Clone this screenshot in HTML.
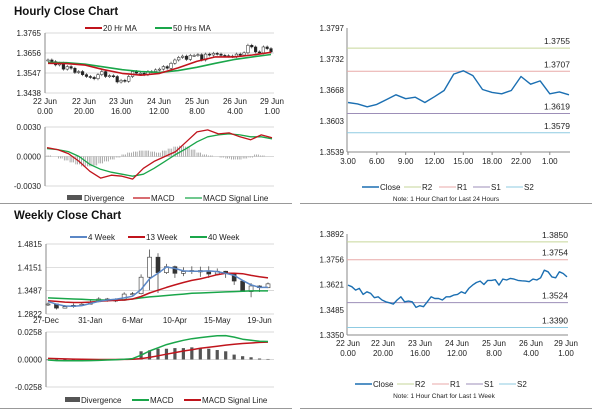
<!DOCTYPE html>
<html><head><meta charset="utf-8"><style>
html,body{margin:0;padding:0;background:#fff}
svg{display:block;font-family:"Liberation Sans",Arial,sans-serif}
</style></head><body>
<svg id="c" width="600" height="413" viewBox="0 0 600 413" xmlns="http://www.w3.org/2000/svg">
<rect width="600" height="413" fill="#fff"/>
<text x="14" y="15" font-size="11.5" font-weight="bold" fill="#111">Hourly Close Chart</text>
<text x="14" y="219" font-size="11.5" font-weight="bold" fill="#111">Weekly Close Chart</text>
<line x1="0" y1="203.5" x2="292" y2="203.5" stroke="#999"/>
<line x1="300" y1="203.5" x2="592" y2="203.5" stroke="#999"/>
<line x1="0" y1="408.5" x2="292" y2="408.5" stroke="#999"/>
<line x1="300" y1="408.5" x2="592" y2="408.5" stroke="#999"/>
<g id="g"></g>
</svg>
<script>
// ---- Hourly (last 24h) ----
const h24Labels=["3.00","6.00","9.00","12.00","15.00","18.00","22.00","1.00"];
const h24Close=[1.3642,1.3639,1.3633,1.3638,1.3648,1.3658,1.3650,1.3653,1.3642,1.3654,1.3667,1.3701,1.3708,1.3698,1.3669,1.3663,1.3660,1.3667,1.3696,1.3680,1.3687,1.3660,1.3664,1.3658];
const h24Levels=[1.3755,1.3707,1.3619,1.3579];
const h24Ticks=[1.3797,1.3732,1.3668,1.3603,1.3539];
// ---- Hourly (last week) ----
const wkLabels1=["22 Jun","22 Jun","23 Jun","24 Jun","25 Jun","26 Jun","29 Jun"];
const wkLabels2=["0.00","20.00","16.00","12.00","8.00","4.00","1.00"];
const wkClose=[1.3618,1.3609,1.3591,1.3600,1.3568,1.3582,1.3573,1.3550,1.3555,1.3538,1.3528,1.3523,1.3516,1.3538,1.3555,1.3528,1.3532,1.3528,1.3498,1.3507,1.3502,1.3528,1.3555,1.3546,1.3546,1.3538,1.3555,1.3555,1.3564,1.3568,1.3582,1.3573,1.3600,1.3618,1.3632,1.3639,1.3621,1.3643,1.3643,1.3647,1.3618,1.3650,1.3645,1.3654,1.3650,1.3643,1.3641,1.3639,1.3636,1.3650,1.3645,1.3657,1.3698,1.3689,1.3662,1.3657,1.3689,1.3680,1.3662];
const wkLevels=[1.3850,1.3754,1.3524,1.3390];
const wkTicks=[1.3892,1.3756,1.3621,1.3485,1.3350];
const hrTicks=[1.3765,1.3656,1.3547,1.3438];
const ma20=[1.3600,1.3598,1.3590,1.3565,1.3545,1.3535,1.3545,1.3575,1.3610,1.3635,1.3635,1.3645,1.3660];
const ma50=[1.3605,1.3603,1.3595,1.3580,1.3565,1.3555,1.3550,1.3560,1.3578,1.3600,1.3620,1.3635,1.3648];
const hMacd=[0.0009,0.0007,0.0003,-0.0005,-0.0015,-0.0022,-0.0019,-0.0020,-0.0023,-0.0012,-0.0005,0.0000,0.0005,0.0015,0.0025,0.0027,0.0023,0.0024,0.0020,0.0017,0.0022,0.0019];
const hSignal=[0.0008,0.0007,0.0005,0.0000,-0.0008,-0.0013,-0.0016,-0.0018,-0.0020,-0.0018,-0.0012,-0.0005,0.0002,0.0008,0.0015,0.0020,0.0022,0.0023,0.0022,0.0020,0.0020,0.0018];
const hDiv=[0.0001,0.0000,-0.0002,-0.0004,-0.0006,-0.0008,-0.0010,-0.0010,-0.0009,-0.0007,-0.0005,-0.0003,-0.0001,0.0002,0.0004,0.0005,0.0006,0.0006,0.0005,0.0004,0.0006,0.0008,0.0010,0.0011,0.0010,0.0007,0.0004,0.0002,0.0001,0.0000,-0.0001,-0.0002,-0.0003,-0.0003,-0.0002,-0.0001,0.0002,0.0001,0.0000,0.0000];
const hMacdTicks=["0.0030","0.0000","-0.0030"];
// ---- Weekly ----
const wLabels=["27-Dec","31-Jan","6-Mar","10-Apr","15-May","19-Jun"];
const wLabelIdx=[0,5,10,15,20,25];
const wTicks=[1.4815,1.4151,1.3487,1.2822];
const wClose=[1.3107,1.2990,1.3030,1.3070,1.3100,1.3170,1.3250,1.3220,1.3210,1.3390,1.3400,1.3870,1.4440,1.4000,1.4170,1.3980,1.4030,1.4060,1.4020,1.3960,1.4040,1.3980,1.3760,1.3460,1.3620,1.3570,1.3680];
const wHigh=[1.3150,1.3060,1.3080,1.3120,1.3160,1.3220,1.3300,1.3280,1.3270,1.3440,1.3450,1.3950,1.4660,1.4550,1.4250,1.4200,1.4150,1.4180,1.4170,1.4180,1.4120,1.4050,1.3950,1.3780,1.3700,1.3640,1.3720];
const wLow=[1.3050,1.2950,1.2980,1.3000,1.3060,1.3120,1.3200,1.3170,1.3160,1.3200,1.3350,1.3380,1.3500,1.3420,1.3960,1.3850,1.3900,1.3960,1.3880,1.3850,1.3920,1.3850,1.3650,1.3450,1.3300,1.3450,1.3560];
const w4=[1.318,1.310,1.305,1.304,1.306,1.312,1.318,1.322,1.324,1.328,1.333,1.352,1.382,1.398,1.416,1.412,1.405,1.404,1.404,1.405,1.403,1.398,1.392,1.378,1.365,1.358,1.358];
const w13=[1.320,1.318,1.316,1.315,1.315,1.316,1.318,1.320,1.321,1.322,1.325,1.332,1.342,1.350,1.358,1.365,1.372,1.378,1.382,1.388,1.394,1.398,1.398,1.397,1.392,1.388,1.385];
const w40=[1.328,1.327,1.326,1.325,1.324,1.323,1.322,1.322,1.322,1.323,1.325,1.328,1.331,1.333,1.335,1.337,1.339,1.341,1.342,1.343,1.344,1.345,1.346,1.347,1.348,1.348,1.348];
const wMacd=[-0.0005,-0.0010,-0.0012,-0.0012,-0.0011,-0.0010,-0.0008,-0.0005,-0.0002,0.0002,0.0008,0.0040,0.0080,0.0110,0.0140,0.0160,0.0180,0.0195,0.0205,0.0215,0.0222,0.0224,0.0210,0.0190,0.0180,0.0172,0.0169];
const wSignal=[0.0010,0.0008,0.0006,0.0004,0.0002,0.0001,0.0000,0.0000,0.0000,0.0001,0.0002,0.0008,0.0020,0.0035,0.0050,0.0065,0.0080,0.0092,0.0105,0.0115,0.0125,0.0135,0.0143,0.0150,0.0155,0.0160,0.0163];
const wDiv=[-0.0007,-0.0008,-0.0008,-0.0007,-0.0006,-0.0005,-0.0004,-0.0003,-0.0002,0.0001,0.0006,0.0077,0.0086,0.0101,0.0101,0.0107,0.0107,0.0114,0.0107,0.0101,0.0089,0.0077,0.0046,0.0031,0.0021,0.0009,0.0005];
const wMacdTicks=["0.0258","0.0000","-0.0258"];

const NS="http://www.w3.org/2000/svg";
const G=document.getElementById('g');
function mk(tag,attrs,name,txt){const e=document.createElementNS(NS,tag);for(const k in attrs)e.setAttribute(k,attrs[k]);


if(txt!==undefined)e.textContent=txt;G.appendChild(e);return e;}
function scale(d0,d1,r0,r1){return v=>r0+(v-d0)*(r1-r0)/(d1-d0);}
function poly(xs,ys,vals,xf,yf,color,w,name){const pts=vals.map((v,i)=>xf(i).toFixed(1)+','+yf(v).toFixed(1)).join(' ');
return mk('polyline',{points:pts,fill:'none',stroke:color,'stroke-width':w,'stroke-linejoin':'round'},name);}
function txt(x,y,s,name,anchor,size){return mk('text',{x:x,y:y,'font-size':size||8,fill:'#222','text-anchor':anchor||'start'},name,s);}
function legLine(x,y,color,label,name,w){mk('line',{x1:x,y1:y,x2:x+17,y2:y,stroke:color,'stroke-width':w||2},name+'-swatch');txt(x+18,y+3,label,name+'-label');}
function frameAxes(x0,x1,yt,yb,name){mk('line',{x1:x0,y1:yt,x2:x0,y2:yb,stroke:'#888','stroke-width':1},name+'-y-axis');}

// ===== Panel: hourly price (top-left) =====
(function(){
 const x0=45,x1=274,yT=33,yB=93;
 const yf=scale(1.3438,1.3765,yB,yT);
 hrTicks.forEach((t,i)=>{mk('line',{x1:x0,y1:yf(t),x2:x1,y2:yf(t),stroke:'#ccc','stroke-width':0.7},'hourly-gridline');txt(x0-4,yf(t)+3,t.toFixed(4),'hourly-y-tick','end');});
 frameAxes(x0,x1,yT,yB,'hourly');
 const n=wkClose.length, xf=i=>x0+3+i*(x1-x0-6)/(n-1);
 wkClose.forEach((v,i)=>{const p=i>0?wkClose[i-1]:v;const up=v>=p;const top=yf(Math.max(v,p)),bot=yf(Math.min(v,p));
  mk('line',{x1:xf(i),y1:top-1.5,x2:xf(i),y2:bot+1.5,stroke:'#222','stroke-width':0.6},'hourly-candle-wick');
  mk('rect',{x:xf(i)-1.3,y:top,width:2.6,height:Math.max(1,bot-top),fill:up?'#fff':'#222',stroke:'#222','stroke-width':0.5},'hourly-candle');});
 const xm=i=>x0+3+i*(x1-x0-6)/(ma20.length-1);
 poly(null,null,ma50,xm,yf,'#1aa64a',1.6,'ma50-line');
 poly(null,null,ma20,xm,yf,'#c0141c',1.6,'ma20-line');
 legLine(85,28,'#c0141c','20 Hr MA','legend-ma20');
 legLine(155,28,'#1aa64a','50 Hrs MA','legend-ma50');
 const lx=[45,84,121,159,197,235,272];
 lx.forEach((x,i)=>{txt(x,104,wkLabels1[i],'hourly-x-tick','middle');txt(x,114,wkLabels2[i],'hourly-x-tick','middle');});
})();
// ===== Panel: hourly MACD =====
(function(){
 const x0=45,x1=274,yT=127,yB=186;
 const yf=scale(-0.003,0.003,yB,yT);
 [0.003,0,-0.003].forEach((t,i)=>{mk('line',{x1:x0,y1:yf(t),x2:x1,y2:yf(t),stroke:'#ccc','stroke-width':0.7},'hourly-macd-gridline');txt(x0-4,yf(t)+3,hMacdTicks[i],'hourly-macd-y-tick','end');});
 frameAxes(x0,x1,yT,yB,'hourly-macd');
 const nd=hDiv.length, xd=i=>x0+2+i*(x1-x0-4)/(nd-1);
 hDiv.forEach((v,i)=>{for(let k=0;k<3;k++){mk('line',{x1:xd(i)+k*1.8,y1:yf(0),x2:xd(i)+k*1.8,y2:yf(v),stroke:'#888','stroke-width':0.7},'hourly-divergence-bar');}});
 const xm=i=>x0+2+i*(x1-x0-4)/(hMacd.length-1);
 poly(null,null,hSignal,xm,yf,'#1aa64a',1.3,'hourly-signal-line');
 poly(null,null,hMacd,xm,yf,'#c0141c',1.3,'hourly-macd-line');
 mk('rect',{x:67,y:195,width:15,height:5,fill:'#555'},'legend-divergence-swatch');txt(84,201,'Divergence','legend-divergence-label');
 legLine(133,198,'#c0141c','MACD','legend-hourly-macd',1.2);
 legLine(185,198,'#1aa64a','MACD Signal Line','legend-hourly-signal',1.2);
})();
// ===== Panel: last 24h (top-right) =====
function levelPanel(x0,x1,yT,yB,lo,hi,ticks,series,levels,prefix){
 const yf=scale(lo,hi,yB,yT);
 ticks.forEach(t=>txt(x0-3,yf(t)+3,t.toFixed(4),prefix+'-y-tick','end'));
 mk('line',{x1:x0,y1:yT,x2:x0,y2:yB,stroke:'#888'},prefix+'-y-axis');
 mk('line',{x1:x0,y1:yB,x2:x1,y2:yB,stroke:'#888'},prefix+'-x-axis');
 const cols=['#c6d69a','#e8aaa8','#9d8fb8','#8fcbe2'];
 levels.forEach((l,i)=>{mk('line',{x1:x0,y1:yf(l),x2:x1,y2:yf(l),stroke:cols[i],'stroke-width':1},prefix+'-level-'+i);txt(x1,yf(l)-4,l.toFixed(4),prefix+'-level-label','end',8.5);});
 const n=series.length,xf=i=>x0+1+i*(x1-x0-2)/(n-1);
 poly(null,null,series,xf,yf,'#1b6fb2',1.4,prefix+'-close-line');
 return xf;
}
(function(){
 const xf=levelPanel(347,570,28,152,1.3539,1.3797,h24Ticks,h24Close,h24Levels,'day');
 [0,3,6,9,12,15,18,21].forEach((idx,i)=>{mk('line',{x1:xf(idx),y1:152,x2:xf(idx),y2:155,stroke:'#888'},'day-x-tickmark');txt(xf(idx),164,h24Labels[i],'day-x-tick','middle');});
 legSet(362,187,'legend-day');
 txt(446,201,'Note: 1 Hour Chart for Last 24 Hours','day-note','middle',6.5);
})();
function legSet(x,y,p){const c=[['#1b6fb2','Close'],['#c6d69a','R2'],['#e8aaa8','R1'],['#9d8fb8','S1'],['#8fcbe2','S2']];
 const off=[0,42,77,111,144];c.forEach((e,i)=>legLine(x+off[i],y,e[0],e[1],p+'-'+e[1].toLowerCase(),i==0?1.6:1));}
(function(){
 const xf=levelPanel(347,568,234,335,1.3350,1.3892,wkTicks,wkClose,wkLevels,'week');
 const lx=[348,383,420,457,494,531,566];
 lx.forEach((x,i)=>{txt(x,346,wkLabels1[i],'week-x-tick','middle');txt(x,356,wkLabels2[i],'week-x-tick','middle');});
 legSet(355,384,'legend-week');
 txt(444,398,'Note: 1 Hour Chart for  Last 1 Week','week-note','middle',6.5);
})();
// ===== Weekly price =====
(function(){
 const x0=46,x1=274,yT=244,yB=314;
 const yf=scale(1.2822,1.4815,yB,yT);
 wTicks.forEach(t=>{mk('line',{x1:x0,y1:yf(t),x2:x1,y2:yf(t),stroke:'#ccc','stroke-width':0.7},'weekly-gridline');txt(x0-4,yf(t)+3,t.toFixed(4),'weekly-y-tick','end');});
 frameAxes(x0,x1,yT,yB,'weekly');
 const n=wClose.length,xf=i=>x0+2+i*(x1-x0-8)/(n-1);
 wClose.forEach((v,i)=>{const p=i>0?wClose[i-1]:v;const top=yf(Math.max(v,p)),bot=yf(Math.min(v,p));
  mk('line',{x1:xf(i),y1:yf(wHigh[i]),x2:xf(i),y2:yf(wLow[i]),stroke:'#333','stroke-width':0.7},'weekly-candle-wick');
  mk('rect',{x:xf(i)-2,y:top,width:4,height:Math.max(1,bot-top),fill:v>=p?'#fff':'#333',stroke:'#333','stroke-width':0.6},'weekly-candle');});
 poly(null,null,w40,xf,yf,'#1aa64a',1.5,'ma40w-line');
 poly(null,null,w13,xf,yf,'#c0141c',1.5,'ma13w-line');
 poly(null,null,w4,xf,yf,'#5b87c6',1.5,'ma4w-line');
 legLine(70,237,'#5b87c6','4 Week','legend-4week');
 legLine(128,237,'#c0141c','13 Week','legend-13week');
 legLine(190,237,'#1aa64a','40 Week','legend-40week');
 wLabelIdx.forEach((idx,i)=>txt(xf(idx)+(i==0?-2:0),323,wLabels[i],'weekly-x-tick','middle'));
})();
// ===== Weekly MACD =====
(function(){
 const x0=46,x1=274,yT=332,yB=387;
 const yf=scale(-0.0258,0.0258,yB,yT);
 [0.0258,0,-0.0258].forEach((t,i)=>{mk('line',{x1:x0,y1:yf(t),x2:x1,y2:yf(t),stroke:'#ccc','stroke-width':0.7},'weekly-macd-gridline');txt(x0-4,yf(t)+3,wMacdTicks[i],'weekly-macd-y-tick','end');});
 frameAxes(x0,x1,yT,yB,'weekly-macd');
 const n=wDiv.length,xf=i=>x0+2+i*(x1-x0-8)/(n-1);
 wDiv.forEach((v,i)=>{const a=yf(0),b=yf(v);mk('rect',{x:xf(i)-1.6,y:Math.min(a,b),width:3.2,height:Math.abs(b-a),fill:'#555'},'weekly-divergence-bar');});
 poly(null,null,wSignal,xf,yf,'#c0141c',1.5,'weekly-signal-line');
 poly(null,null,wMacd,xf,yf,'#1aa64a',1.5,'weekly-macd-line');
 mk('rect',{x:65,y:397,width:15,height:5,fill:'#555'},'legend-weekly-divergence-swatch');txt(81,403,'Divergence','legend-weekly-divergence-label');
 legLine(132,400,'#1aa64a','MACD','legend-weekly-macd');
 legLine(184,400,'#c0141c','MACD Signal Line','legend-weekly-signal');
})();
</script>
</body></html>
